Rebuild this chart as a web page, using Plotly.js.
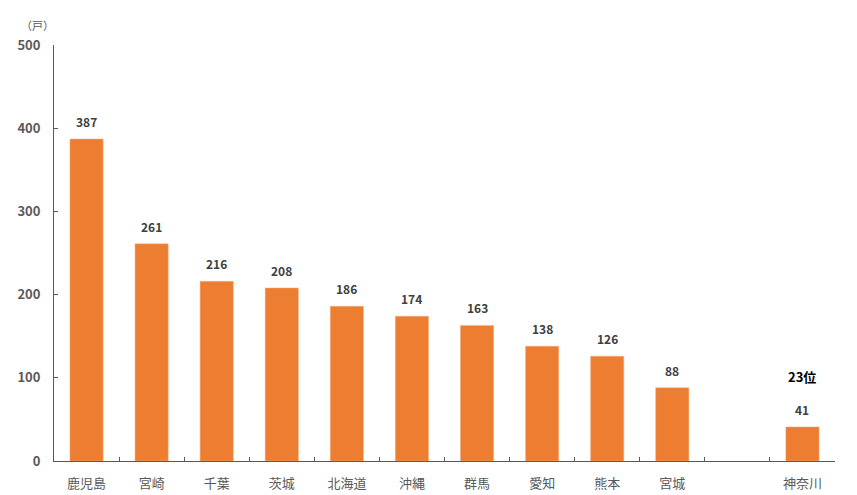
<!DOCTYPE html>
<html><head><meta charset="utf-8">
<script src="https://cdn.plot.ly/plotly-3.0.1.min.js"></script>
<style>html,body{margin:0;padding:0;background:#fff}</style>
</head><body>
<div id="chart" style="width:857px;height:495px"></div>
<script>
const categories = ["鹿児島","宮崎","千葉","茨城","北海道","沖縄","群馬","愛知","熊本","宮城"," ","神奈川"];
const values = [387,261,216,208,186,174,163,138,126,88,null,41];
const valueLabels = ["387","261","216","208","186","174","163","138","126","88","","41"];
const yTicks = [0,100,200,300,400,500];
const rankNote = {category:"神奈川", text:"23位", y:101};
const unitLabel = "（戸）";

const font = "'Noto Sans CJK JP', 'Noto Sans', sans-serif";
const W=857,H=495,L=54,R=22,T=45,B=34;
const anns = [];
categories.forEach((c,i)=>{
  if(values[i]==null) return;
  anns.push({x:c, y:values[i], xref:"x", yref:"y", text:valueLabels[i], showarrow:false,
    yanchor:"bottom", yshift:7, font:{family:font, size:12, color:"#404040", weight:"bold"}});
});
anns.push({x:rankNote.category, y:rankNote.y, xref:"x", yref:"y", text:rankNote.text, showarrow:false,
  yanchor:"middle", font:{family:font, size:13, color:"#000", weight:"bold"}});
anns.push({x:(37-L)/(W-L-R), y:1+(T-25)/(H-T-B), xref:"paper", yref:"paper", xanchor:"center", yanchor:"middle",
  text:unitLabel, showarrow:false, font:{family:font, size:11, color:"#595959"}});

Plotly.newPlot("chart", [{
  type:"bar", x:categories, y:values,
  marker:{color:"#ED7D31", line:{color:"#F4B183", width:0.5}},
  hoverinfo:"none"
}], {
  width:W, height:H,
  margin:{l:L, r:R, t:T, b:B},
  paper_bgcolor:"#fff", plot_bgcolor:"#fff",
  bargap:0.49, showlegend:false,
  font:{family:font, color:"#595959"},
  xaxis:{type:"category", categoryorder:"array", categoryarray:categories,
    showline:true, linecolor:"#595959", linewidth:1,
    ticks:"inside", ticklen:4, tickcolor:"#595959", tickson:"boundaries",
    tickfont:{family:font, size:13, color:"#595959"}, ticklabelstandoff:10,
    showgrid:false, zeroline:false, fixedrange:true},
  yaxis:{range:[0,500], tickvals:yTicks, showline:true, linecolor:"#595959", linewidth:1,
    ticks:"inside", ticklen:4, tickcolor:"#595959", showgrid:false, zeroline:false,
    tickfont:{family:font, size:13, color:"#595959", weight:"bold"}, ticklabelstandoff:10},
  annotations:anns
}, {displayModeBar:false, staticPlot:true});
</script>
</body></html>
